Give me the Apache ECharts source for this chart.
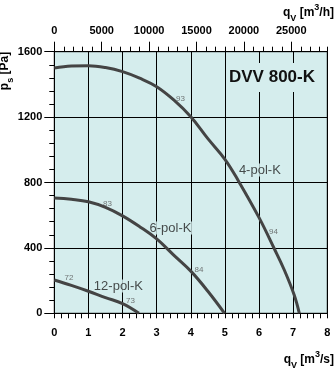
<!DOCTYPE html>
<html><head><meta charset="utf-8">
<script src="https://cdn.jsdelivr.net/npm/echarts@6/dist/echarts.min.js"></script>
<style>html,body{margin:0;padding:0;background:#fff}#c{width:335px;height:368px}</style>
</head><body><div id="c"></div>
<script>
// Axis ranges / ticks
const flowTicksS = [0, 1, 2, 3, 4, 5, 6, 7, 8];          // m³/s
const flowTicksH = [0, 5000, 10000, 15000, 20000, 25000]; // m³/h
const flowMaxH = 28800;
const pressTicks = [0, 400, 800, 1200, 1600];             // Pa

// Fan curves [q (m³/s), p (Pa)]
const curve4pol = [[0,1500],[0.5,1512],[1,1514],[1.5,1503],[2,1478],[2.5,1438],[3,1386],[3.5,1305],[4,1202],[4.5,1068],[5,942],[5.4,808],[6,585],[6.44,398],[6.74,265],[7.03,112],[7.18,0]];
const curve6pol = [[0,705],[0.5,697],[1,682],[1.5,648],[2,596],[2.5,530],[3,455],[3.5,356],[4,258],[4.5,135],[4.99,0]];
const curve12pol = [[0,204],[0.5,171],[1,135],[1.5,96],[2,59],[2.48,0]];

// Annotations [q, p, text]
const effLabels = [[3.70,1311,'93'],[6.42,499,'94'],[1.56,668,'83'],[4.24,269,'84'],[0.43,220,'72'],[2.23,75,'73']];
const curveNames = [[5.38,876,'4-pol-K'],[2.76,522,'6-pol-K'],[1.13,167,'12-pol-K']];
const chartTitle = 'DVV 800-K';

const FF = 'Liberation Sans, Arial, sans-serif';
const BG = '#d5eded';
const LINE = '#444444';

const chart = echarts.init(document.getElementById('c'));
const lbl = {fontFamily: FF, fontWeight: 'bold', fontSize: 11, color: '#000', formatter: v => String(v)};
const richName = {
  b: {fontFamily: FF, fontWeight: 'bold', fontSize: 12, color: '#000', lineHeight: 20},
  sub: {fontFamily: FF, fontWeight: 'bold', fontSize: 9, color: '#000', lineHeight: 10, verticalAlign: 'bottom'},
  sup: {fontFamily: FF, fontWeight: 'bold', fontSize: 9, color: '#000', lineHeight: 6, verticalAlign: 'top'}
};
const lineSeries = (data) => ({
  type: 'line', data: data, smooth: 0.4, symbol: 'none', z: 3,
  lineStyle: {color: LINE, width: 3}, xAxisIndex: 0, yAxisIndex: 0
});

chart.setOption({
  animation: false,
  title: {
    text: chartTitle, left: 226, top: 63,
    padding: [6, 3, 6, 3], backgroundColor: BG,
    textStyle: {fontFamily: FF, fontWeight: 'bold', fontSize: 17, color: '#111'}
  },
  grid: {left: 54.3, right: 7.7, top: 51.7, bottom: 54.7, show: true, backgroundColor: BG, borderColor: '#000', borderWidth: 1},
  xAxis: [
    {type: 'value', position: 'bottom', min: flowTicksS[0], max: flowTicksS[flowTicksS.length-1], interval: 1,
     axisLine: {lineStyle: {color: '#000', width: 1}},
     axisTick: {length: 5, lineStyle: {color: '#000'}},
     minorTick: {show: true, splitNumber: 5, length: 5, lineStyle: {color: '#000'}},
     splitLine: {show: true, lineStyle: {color: '#000', width: 1}},
     axisLabel: Object.assign({margin: 14}, lbl)},
    {type: 'value', position: 'top', min: flowTicksH[0], max: flowMaxH, interval: flowTicksH[1]-flowTicksH[0],
     axisLine: {lineStyle: {color: '#000', width: 1}},
     axisTick: {length: 10, lineStyle: {color: '#000'}},
     splitLine: {show: false},
     axisLabel: Object.assign({margin: 15, showMaxLabel: false}, lbl)},
    {type: 'value', position: 'top', min: flowTicksH[0], max: flowMaxH, interval: 1000,
     axisLine: {show: false},
     axisTick: {length: 5, lineStyle: {color: '#000'}},
     splitLine: {show: false}, axisLabel: {show: false}}
  ],
  yAxis: {type: 'value', min: pressTicks[0], max: pressTicks[pressTicks.length-1], interval: pressTicks[1]-pressTicks[0],
    axisLine: {lineStyle: {color: '#000', width: 1}},
    axisTick: {length: 10, lineStyle: {color: '#000'}},
    minorTick: {show: true, splitNumber: 5, length: 5, lineStyle: {color: '#000'}},
    splitLine: {show: true, lineStyle: {color: '#000', width: 1}},
    axisLabel: Object.assign({margin: 12}, lbl)},
  graphic: [
    {type: 'text', x: 334, y: 360, z: 10, style: {text: '{b|q}{sub|V} {b|[m}{sup|3}{b|/s]}', align: 'right', verticalAlign: 'middle', rich: richName}},
    {type: 'text', x: 334, y: 13, z: 10, style: {text: '{b|q}{sub|V} {b|[m}{sup|3}{b|/h]}', align: 'right', verticalAlign: 'middle', rich: richName}},
    {type: 'text', x: 5, y: 71, rotation: Math.PI/2, z: 10, style: {text: '{b|p}{sub|s} {b|[Pa]}', align: 'center', verticalAlign: 'middle', rich: richName}}
  ],
  series: [
    lineSeries(curve4pol), lineSeries(curve6pol), lineSeries(curve12pol),
    {type: 'scatter', data: effLabels, symbolSize: 0, z: 1,
     label: {show: true, position: 'inside', formatter: p => p.data[2], fontFamily: FF, fontSize: 8, color: '#555'}},
    {type: 'scatter', data: curveNames, symbolSize: 0, z: 1,
     label: {show: true, position: 'right', distance: 0, formatter: p => p.data[2], fontFamily: FF, fontSize: 13, color: '#222', backgroundColor: BG, padding: [0, 1]}}
  ]
});
</script></body></html>
